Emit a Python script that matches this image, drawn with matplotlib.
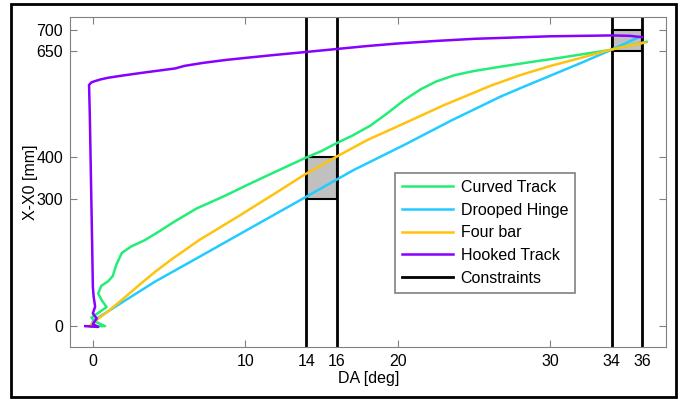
import matplotlib
matplotlib.use('Agg')
import matplotlib.pyplot as plt
from matplotlib.patches import Rectangle

plt.rcParams['font.family'] = ['Liberation Sans', 'DejaVu Sans']

# Curved Track
curved_x = [-0.2, 0.8, 0.2, -0.1, 0.3, 0.9, 0.6, 0.35, 0.55, 1.0, 1.3, 1.55, 1.9, 2.5, 3.4, 4.4, 5.3,
            6.8, 8.6, 10.2, 11.8, 13.9, 15.0, 15.9, 17.0, 18.2, 19.3, 20.4, 21.5, 22.5, 23.7,
            25.0, 26.7, 28.5, 30.4, 32.0, 33.8, 35.0, 36.3]
curved_y = [0, 0, 10, 20, 30, 45, 60, 77, 95, 106, 118, 146, 173, 188, 203, 225, 246,
            278, 307, 335, 362, 397, 414, 431, 450, 474, 503, 534, 560, 578, 593,
            603, 613, 623, 633, 642, 652, 662, 672]

# Drooped Hinge
drooped_x = [-0.1, 0.0, 2.0, 4.07, 6.6, 10.0, 13.9, 17.1, 20.4, 23.5, 26.7, 28.0, 30.0, 32.0, 33.8, 35.8]
drooped_y = [0, 12, 58, 105, 156, 225, 304, 369, 428, 486, 542, 562, 592, 622, 650, 683]

# Four bar
fourbar_x = [-0.2, 0.0, 1.0, 2.0, 3.0, 4.07, 5.17, 7.0, 9.65, 12.0, 13.92, 15.9, 18.0, 20.4,
             23.0, 26.07, 28.0, 30.0, 32.0, 33.8, 35.0, 36.2]
fourbar_y = [0, 8, 35, 65, 96, 128, 158, 204, 262, 315, 359, 399, 440, 479,
             522, 568, 593, 615, 634, 652, 662, 670]

# Hooked Track
hooked_x = [-0.5, 0.35, 0.0, 0.25, 0.0, 0.15, 0.05, 0.0, -0.05, -0.1, -0.15, -0.2, -0.25,
            -0.1, 0.13, 0.5, 1.0, 2.1, 3.5, 5.4, 6.0, 7.2, 8.7, 10.3, 11.95, 14.0, 16.0,
            18.0, 20.0, 22.5, 25.0, 27.5, 30.0, 32.0, 34.0, 35.2, 36.0]
hooked_y = [0, -2, 5, 18, 30, 46, 70, 93, 200, 300, 400, 500, 570,
            576, 579, 583, 587, 593, 600, 609, 615, 622, 629, 635, 641, 648, 655,
            662, 668, 674, 679, 682, 685, 686, 687, 686, 683]

# constraints: DA windows and X-X0 windows
constraint_da = [14, 16, 34, 36]
box_da = [(14, 16), (34, 36)]
box_x = [(300, 400), (650, 700)]

xticks = [0, 10, 14, 16, 20, 30, 34, 36]
yticks = [0, 300, 400, 650, 700]

fig = plt.figure(figsize=(6.84, 4.01), dpi=100)
ax = fig.add_axes([0.1023, 0.134, 0.872, 0.823])

for (d0, d1), (x0, x1) in zip(box_da, box_x):
    ax.add_patch(Rectangle((d0, x0), d1 - d0, x1 - x0, facecolor='#c0c0c0',
                           edgecolor='black', linewidth=1.5, zorder=1))

ax.plot(curved_x, curved_y, color='#22ee77', lw=1.8, label='Curved Track', zorder=3)
ax.plot(drooped_x, drooped_y, color='#22ccff', lw=1.8, label='Drooped Hinge', zorder=3)
ax.plot(fourbar_x, fourbar_y, color='#ffc20e', lw=1.8, label='Four bar', zorder=3)
ax.plot(hooked_x, hooked_y, color='#8800ff', lw=1.8, label='Hooked Track', zorder=3)
for i, d in enumerate(constraint_da):
    ax.axvline(d, color='black', lw=2, zorder=2, label='Constraints' if i == 0 else None)

ax.set_xlim(-1.5, 37.6)
ax.set_ylim(-50, 730)
ax.set_xticks(xticks)
ax.set_yticks(yticks)
ax.tick_params(direction='in', length=5, color='#808080', labelsize=11.5,
               top=True, right=True, pad=5)
for s in ax.spines.values():
    s.set_color('#808080')
ax.set_xlabel('DA [deg]', fontsize=11.5)
ax.set_ylabel('X-X0 [mm]', fontsize=11.5)
ax.xaxis.set_label_coords(0.5, -0.073)
ax.yaxis.set_label_coords(-0.053, 0.5)

leg = ax.legend(loc='upper left', bbox_to_anchor=(0.545, 0.529), fontsize=11.5,
                frameon=True, fancybox=False, edgecolor='#808080', framealpha=1,
                handlelength=3.2, handletextpad=0.45, labelspacing=0.48,
                borderpad=0.45, borderaxespad=0)
leg.get_frame().set_linewidth(1.2)

fig.patches.append(Rectangle((11 / 684, 4 / 401), 665 / 684, 393 / 401,
                             transform=fig.transFigure, fill=False,
                             edgecolor='black', linewidth=2))

fig.savefig('out.png', dpi=100)
